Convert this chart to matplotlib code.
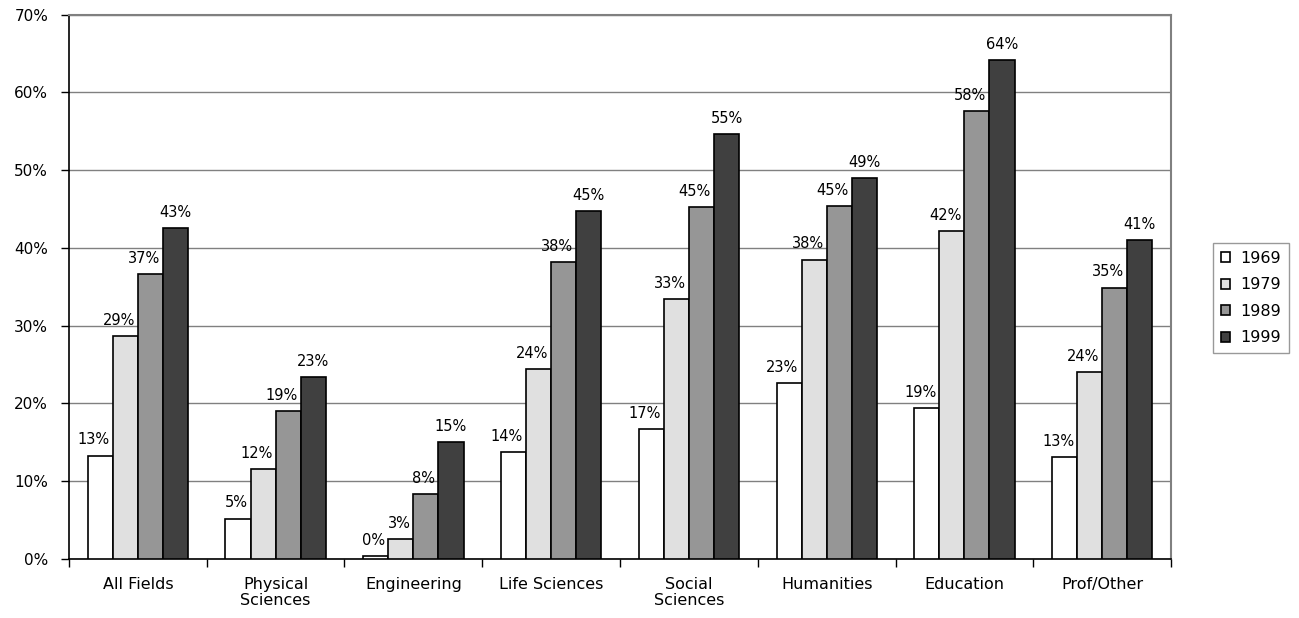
import matplotlib
matplotlib.use("Agg")
import matplotlib.pyplot as plt
import numpy as np
from matplotlib.ticker import FixedLocator, PercentFormatter

plt.rcParams['font.family'] = ['DejaVu Sans']

fields = ["All Fields", "Physical\nSciences", "Engineering", "Life Sciences",
          "Social\nSciences", "Humanities", "Education", "Prof/Other"]
years = ["1969", "1979", "1989", "1999"]

share_1969 = [13.3, 5.2, 0.35, 13.8, 16.7, 22.6, 19.4, 13.1]
share_1979 = [28.7, 11.6, 2.6, 24.4, 33.4, 38.5, 42.2, 24.0]
share_1989 = [36.6, 19.0, 8.4, 38.2, 45.3, 45.4, 57.6, 34.9]
share_1999 = [42.6, 23.4, 15.0, 44.7, 54.6, 49.0, 64.1, 41.0]
series = [share_1969, share_1979, share_1989, share_1999]
colors = ["#ffffff", "#e0e0e0", "#969696", "#404040"]

DPI = 100
fig = plt.figure(figsize=(12.99, 6.18), dpi=DPI)
ax = fig.add_axes([0.0531, 0.0955, 0.8484, 0.881])

x = np.arange(len(fields))
width = 0.182
labels = []  # (annotation, left edge of the neighbouring bar or None)
for i, (vals, col, yr) in enumerate(zip(series, colors, years)):
    pos = x + (i - 1.5) * width
    ax.bar(pos, vals, width, color=col, edgecolor="black",
           linewidth=1.2, label=yr, zorder=3)
    for j, (xb, v) in enumerate(zip(pos, vals)):
        ann = ax.annotate(f"{round(v):d}%", xy=(xb, v), xytext=(0, 8),
                          textcoords="offset points", ha="center",
                          va="baseline", fontsize=10.5, zorder=4)
        nxt = None
        if i < len(series) - 1 and series[i + 1][j] > v:
            nxt = xb + width / 2
        labels.append((ann, nxt))

ax.set_xlim(-0.5, len(fields) - 0.5)
ax.set_ylim(0, 70)
ax.yaxis.set_major_locator(FixedLocator(np.arange(0, 71, 10)))
ax.yaxis.set_major_formatter(PercentFormatter(decimals=0))
ax.grid(axis="y", color="#808080", linewidth=1.0, zorder=0)

ax.set_xticks(x)
ax.set_xticklabels(fields, fontsize=11.5, linespacing=1.05)
ax.set_xticks(np.arange(-0.5, len(fields) + 0.5, 1), minor=True)
ax.tick_params(axis="x", which="major", length=0, pad=13)
ax.tick_params(axis="x", which="minor", length=6, width=1, color="black",
               direction="out")
ax.tick_params(axis="y", length=6, width=1, direction="out", labelsize=11,
               pad=9)

for side in ("top", "right"):
    ax.spines[side].set_color("#808080")
    ax.spines[side].set_linewidth(1.5)
for side in ("left", "bottom"):
    ax.spines[side].set_color("black")
    ax.spines[side].set_linewidth(1.2)

leg = ax.legend(loc="center left", bbox_to_anchor=(1.038, 0.479),
                frameon=True, fancybox=False, edgecolor="#808080",
                fontsize=11.5, handlelength=0.6, handleheight=0.6,
                handletextpad=0.6, labelspacing=0.72, borderpad=0.5,
                borderaxespad=0)
leg.get_frame().set_linewidth(1.0)

# Nudge value labels left so they stay clear of the taller bar beside them
fig.canvas.draw()
renderer = fig.canvas.get_renderer()
gap_px = 3
for ann, nxt in labels:
    if nxt is None:
        continue
    bb = ann.get_window_extent(renderer)
    limit = ax.transData.transform((nxt, 0))[0] - gap_px
    if bb.x1 > limit:
        shift_pt = (bb.x1 - limit) * 72.0 / DPI
        ann.set_position((-shift_pt, 8))

fig.savefig("out.png", dpi=DPI)
